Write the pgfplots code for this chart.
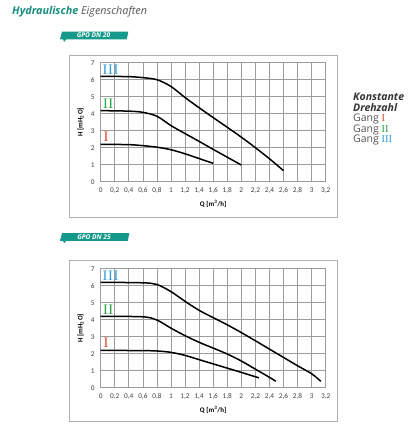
\documentclass[border=0pt]{standalone}
\usepackage{fontspec}
\setmainfont{Open Sans}
\newfontfamily\carlito{Carlito}
\newfontfamily\romanI{Liberation Serif}
\usepackage{pgfplots}
\pgfplotsset{compat=1.18}
\definecolor{tealtag}{HTML}{14998A}
\definecolor{tealtxt}{HTML}{1A8F80}
\definecolor{gI}{HTML}{D9472B}
\definecolor{gII}{HTML}{27A444}
\definecolor{gIII}{HTML}{2A9FD8}
\definecolor{gridc}{HTML}{9C9C9C}
\definecolor{framec}{HTML}{B0B0B0}
\definecolor{txtgray}{HTML}{555555}
\definecolor{darktxt}{HTML}{333333}

\pgfplotsset{pumpaxis/.style={
  anchor=south west, scale only axis, width=225pt, height=119pt,
  xmin=0, xmax=3.2, ymin=0, ymax=7,
  xtick={0,0.2,0.4,0.6,0.8,1,1.2,1.4,1.6,1.8,2,2.2,2.4,2.6,2.8,3,3.2},
  xticklabels={0,{0,2},{0,4},{0,6},{0,8},1,{1,2},{1,4},{1,6},{1,8},2,{2,2},{2,4},{2,6},{2,8},3,{3,2}},
  ytick={0,1,2,3,4,5,6,7},
  yticklabels={0,1,2,3,4,5,6,7},
  grid=major,
  major grid style={draw=gridc, line width=0.75pt},
  axis line style={draw=gridc, line width=0.85pt},
  major tick length=0pt,
  ticklabel style={font=\carlito\fontsize{7.3}{8}\selectfont, text=black!75},
  xticklabel style={yshift=-2.5pt},
  yticklabel style={xshift=-2.5pt},
  xlabel={Q [m\textsuperscript{3}/h]},
  ylabel={H [mH\textsubscript{2}O]},
  every axis x label/.style={at={(axis description cs:0.5,-0.187)}, anchor=center, font=\carlito\bfseries\fontsize{7}{8}\selectfont},
  every axis y label/.style={at={(axis description cs:-0.089,0.5)}, rotate=90, anchor=center, font=\carlito\bfseries\fontsize{7}{8}\selectfont},
  clip=false,
}}
\pgfplotsset{curve/.style={black, line width=1.5pt, smooth, tension=0.5, no marks}}
\newcommand{\numI}{\romanI\fontsize{14.5}{14.5}\selectfont I}
\newcommand{\numII}{\romanI\fontsize{14.5}{14.5}\selectfont I\kern0.6pt I}
\newcommand{\numIII}{\romanI\fontsize{14.5}{14.5}\selectfont I\kern0.6pt I\kern0.6pt I}

\pgfplotstableread{
q h
0 2.2
0.4 2.18
0.6 2.12
0.8 2.03
1.0 1.88
1.2 1.64
1.4 1.36
1.6 1.08
}\topI
\pgfplotstableread{
q h
0 4.18
0.4 4.15
0.6 4.08
0.8 3.85
1.0 3.3
1.2 2.83
1.4 2.37
1.6 1.9
1.8 1.44
2.0 0.98
}\topII
\pgfplotstableread{
q h
0 6.2
0.4 6.18
0.6 6.12
0.8 6.0
1.0 5.6
1.2 4.95
1.4 4.35
1.6 3.77
1.8 3.2
2.0 2.62
2.2 2.0
2.4 1.35
2.6 0.65
}\topIII
\pgfplotstableread{
q h
0 2.2
0.6 2.18
0.8 2.16
1.0 2.08
1.2 1.9
1.4 1.65
1.6 1.4
1.8 1.15
2.0 0.9
2.25 0.58
}\botI
\pgfplotstableread{
q h
0 4.2
0.6 4.17
0.8 3.98
1.0 3.5
1.2 3.06
1.4 2.67
1.6 2.33
1.8 1.98
2.0 1.57
2.2 1.09
2.4 0.61
2.49 0.38
}\botII
\pgfplotstableread{
q h
0 6.2
0.6 6.17
0.8 6.07
1.0 5.65
1.2 5.08
1.4 4.55
1.6 4.12
1.8 3.7
2.0 3.24
2.2 2.76
2.4 2.27
2.6 1.78
2.8 1.29
3.0 0.82
3.13 0.38
}\botIII

\begin{document}
\begin{tikzpicture}
\path[use as bounding box, fill=white] (0pt,0pt) rectangle (416pt,437pt);
\begin{scope}[shift={(0pt,437pt)}, x=1pt, y=-1pt]
  % title
  \node[anchor=base west, inner sep=0pt] at (12,14.5) {\fontsize{10.8}{12}\selectfont\itshape{\bfseries\color{tealtxt}Hydraulische} {\color{txtgray}Eigenschaften}};
  % frames
  \draw[framec, line width=0.8pt, fill=white] (69,55) rectangle (337,217);
  \draw[framec, line width=0.8pt, fill=white] (69,260) rectangle (337.5,421.7);
  % tags
  \fill[tealtag] (60,39.3) -- (62,31.7) -- (128.3,31.7) -- (126.8,39.3) -- cycle;
  \fill[tealtag] (63,39) -- (66.5,39) -- (64,42) -- cycle;
  \node[anchor=center, inner sep=0pt, text=white] at (93.5,35.6) {\fontsize{6.6}{7}\selectfont\bfseries\itshape GPO DN 20};
  \fill[tealtag] (60,240.8) -- (62,233.2) -- (129.3,233.2) -- (127.8,240.8) -- cycle;
  \fill[tealtag] (63,240.5) -- (66.5,240.5) -- (64,243.5) -- cycle;
  \node[anchor=center, inner sep=0pt, text=white] at (94,237.1) {\fontsize{6.6}{7}\selectfont\bfseries\itshape GPO DN 25};
  % legend text
  \node[anchor=base west, inner sep=0pt, text=darktxt] at (353,100.7) {\fontsize{10.5}{11}\selectfont\bfseries\itshape Konstante};
  \node[anchor=base west, inner sep=0pt, text=darktxt] at (353,111.2) {\fontsize{10.5}{11}\selectfont\bfseries\itshape Drehzahl};
  \node[anchor=base west, inner sep=0pt, text=txtgray] at (353,121.7) {\fontsize{10.5}{11}\selectfont Gang {\romanI\color{gI}I}};
  \node[anchor=base west, inner sep=0pt, text=txtgray] at (353,132.2) {\fontsize{10.5}{11}\selectfont Gang {\romanI\color{gII}II}};
  \node[anchor=base west, inner sep=0pt, text=txtgray] at (353,142.7) {\fontsize{10.5}{11}\selectfont Gang {\romanI\color{gIII}III}};
\end{scope}

% top chart GPO DN 20
\begin{axis}[pumpaxis, at={(100.7pt,255.3pt)}]
  \addplot[curve] table[x=q,y=h] {\topI};
  \addplot[curve] table[x=q,y=h] {\topII};
  \addplot[curve] table[x=q,y=h] {\topIII};
  \node[anchor=west, inner sep=0pt, text=gIII] at (axis cs:0.025,6.58) {\numIII};
  \node[anchor=west, inner sep=0pt, text=gII] at (axis cs:0.03,4.6) {\numII};
  \node[anchor=west, inner sep=0pt, text=gI] at (axis cs:0.04,2.64) {\numI};
\end{axis}

% bottom chart GPO DN 25
\begin{axis}[pumpaxis, at={(100.7pt,49.3pt)}]
  \addplot[curve] table[x=q,y=h] {\botI};
  \addplot[curve] table[x=q,y=h] {\botII};
  \addplot[curve] table[x=q,y=h] {\botIII};
  \node[anchor=west, inner sep=0pt, text=gIII] at (axis cs:0.025,6.58) {\numIII};
  \node[anchor=west, inner sep=0pt, text=gII] at (axis cs:0.03,4.6) {\numII};
  \node[anchor=west, inner sep=0pt, text=gI] at (axis cs:0.04,2.64) {\numI};
\end{axis}
\end{tikzpicture}
\end{document}
